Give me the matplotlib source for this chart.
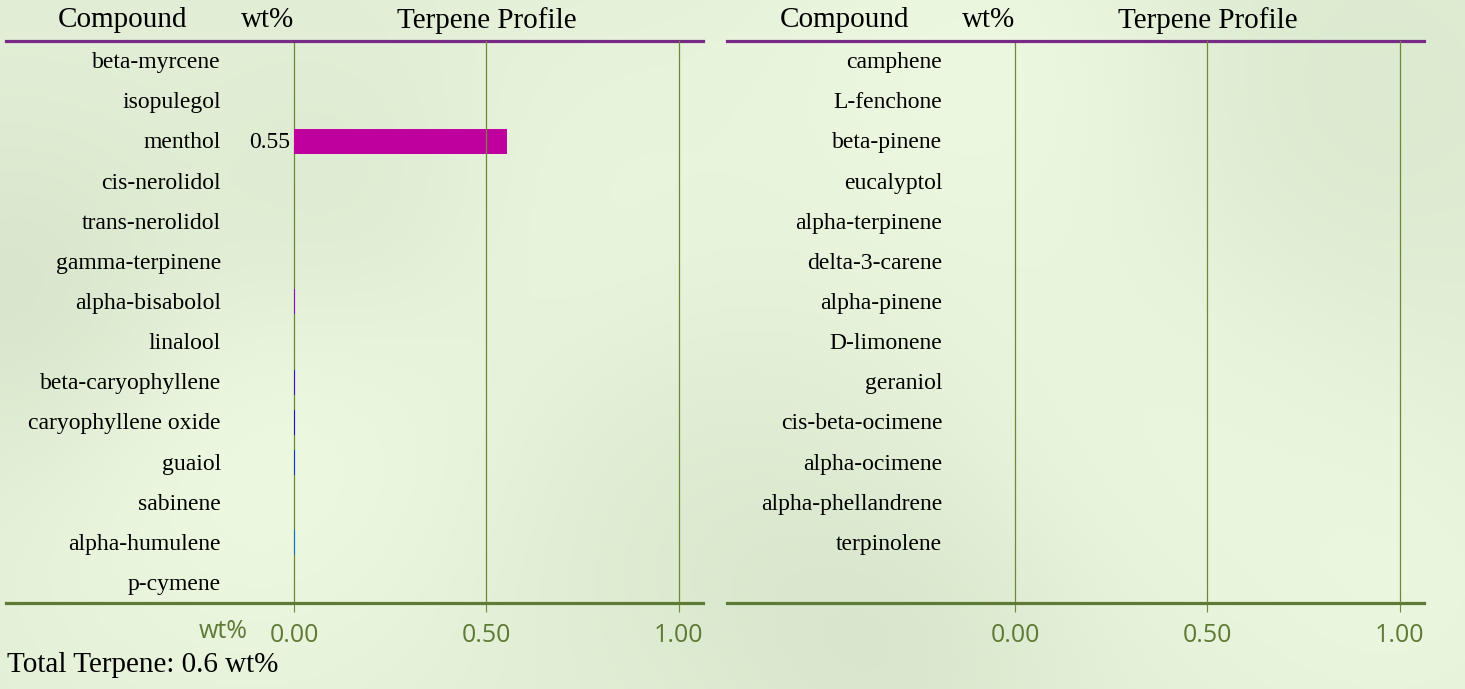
import numpy as np
import matplotlib.pyplot as plt

plt.rcParams['font.family'] = ['Liberation Serif', 'DejaVu Serif']

left_names = ['beta-myrcene', 'isopulegol', 'menthol', 'cis-nerolidol', 'trans-nerolidol',
              'gamma-terpinene', 'alpha-bisabolol', 'linalool', 'beta-caryophyllene',
              'caryophyllene oxide', 'guaiol', 'sabinene', 'alpha-humulene', 'p-cymene']
left_values = [0, 0, 0.554, 0, 0, 0, 0.003, 0, 0.003, 0.003, 0.003, 0, 0.003, 0]
left_colors = ['#c0009e', '#c0009e', '#c0009e', '#b000b8', '#a000c8', '#9800d8',
               '#8f00e6', '#6000f0', '#3c00ff', '#2a00f0', '#0030f0', '#0050ec',
               '#0070e8', '#0090e0']

right_names = ['camphene', 'L-fenchone', 'beta-pinene', 'eucalyptol', 'alpha-terpinene',
               'delta-3-carene', 'alpha-pinene', 'D-limonene', 'geraniol',
               'cis-beta-ocimene', 'alpha-ocimene', 'alpha-phellandrene', 'terpinolene']
right_values = [0] * 13
right_colors = ['#00a0d8'] * 13

ticks = [0, 0.5, 1.0]
tick_labels = ['0.00', '0.50', '1.00']

total = sum(left_values) + sum(right_values)

W, H = 1465, 689
purple = '#772b86'
green = '#5f7a35'
grid_green = '#6b8a33'

fig = plt.figure(figsize=(W / 100, H / 100), dpi=100)

# soft blurred background
bg = fig.add_axes([0, 0, 1, 1], zorder=-5)
yy, xx = np.mgrid[0:H:4, 0:W:4]
base = np.array([226, 239, 214], float)
img = np.ones(xx.shape + (3,)) * base
blobs = [(250, 450, 180, 12), (980, 60, 150, 10), (1180, 420, 200, 8), (600, 200, 160, 6),
         (30, 300, 120, -14), (340, 210, 110, -8), (900, 650, 120, -10), (1350, 120, 160, -8),
         (700, 520, 140, -6), (1420, 600, 120, 6)]
for cx, cy, r, amp in blobs:
    g = np.exp(-((xx - cx) ** 2 + (yy - cy) ** 2) / (2 * r ** 2))
    img += amp * g[..., None] * np.array([1.0, 0.8, 0.9])
bg.imshow(np.clip(img, 0, 255).astype(np.uint8), aspect='auto', extent=[0, W, H, 0])
bg.axis('off')


def px_axes(x0, x1, y0, y1):
    return fig.add_axes([x0 / W, 1 - y1 / H, (x1 - x0) / W, (y1 - y0) / H])


def draw_panel(ax, names, values, colors, show_wt):
    ax.set_xlim(-0.75, 1.062)
    ax.set_ylim(13.5, -0.5)
    ax.patch.set_alpha(0)
    for s in ['left', 'right']:
        ax.spines[s].set_visible(False)
    ax.spines['top'].set_color(purple)
    ax.spines['top'].set_linewidth(2.3)
    ax.spines['bottom'].set_color(green)
    ax.spines['bottom'].set_linewidth(2.3)
    ax.set_yticks([])
    ax.set_xticks(ticks, tick_labels)
    ax.tick_params(axis='x', direction='out', length=6.5, width=0.8, color=grid_green,
                   labelcolor=green, pad=8, labelsize=18, labelfontfamily='Open Sans')
    # zero line sits under the bars, the others over them
    for t in ticks:
        ax.axvline(t, color=grid_green, lw=0.9, zorder=1 if t == 0 else 3)

    rows = np.arange(len(names))
    ax.barh(rows, values, height=0.62, color=colors, linewidth=0, zorder=2)
    for r, name, v in zip(rows, names, values):
        ax.text(-0.19, r + 0.04, name, ha='right', va='center', fontsize=17)
        if v >= 0.01:
            ax.text(-0.01, r + 0.04, f'{v:.2f}', ha='right', va='center', fontsize=17)

    tr = ax.get_xaxis_transform()
    ax.text(-0.445, 1.037, 'Compound', transform=tr, ha='center', va='center', fontsize=21)
    ax.text(0.0, 1.037, 'wt%', transform=tr, ha='right', va='center', fontsize=21)
    ax.text(0.5, 1.037, 'Terpene Profile', transform=tr, ha='center', va='center', fontsize=21)
    if show_wt:
        ax.text(-0.12, -0.05, 'wt%', transform=tr, ha='right', va='center', fontsize=18,
                color=green, family='Open Sans')


ax1 = px_axes(5.5, 702.5, 41, 603)
draw_panel(ax1, left_names, left_values, left_colors, True)
ax2 = px_axes(727, 1423.5, 41, 603)
draw_panel(ax2, right_names, right_values, right_colors, False)

fig.text(7 / W, 1 - 665 / H, f'Total Terpene: {total:.1f} wt%', ha='left', va='center',
         fontsize=21)

fig.savefig('out.png', dpi=100)
